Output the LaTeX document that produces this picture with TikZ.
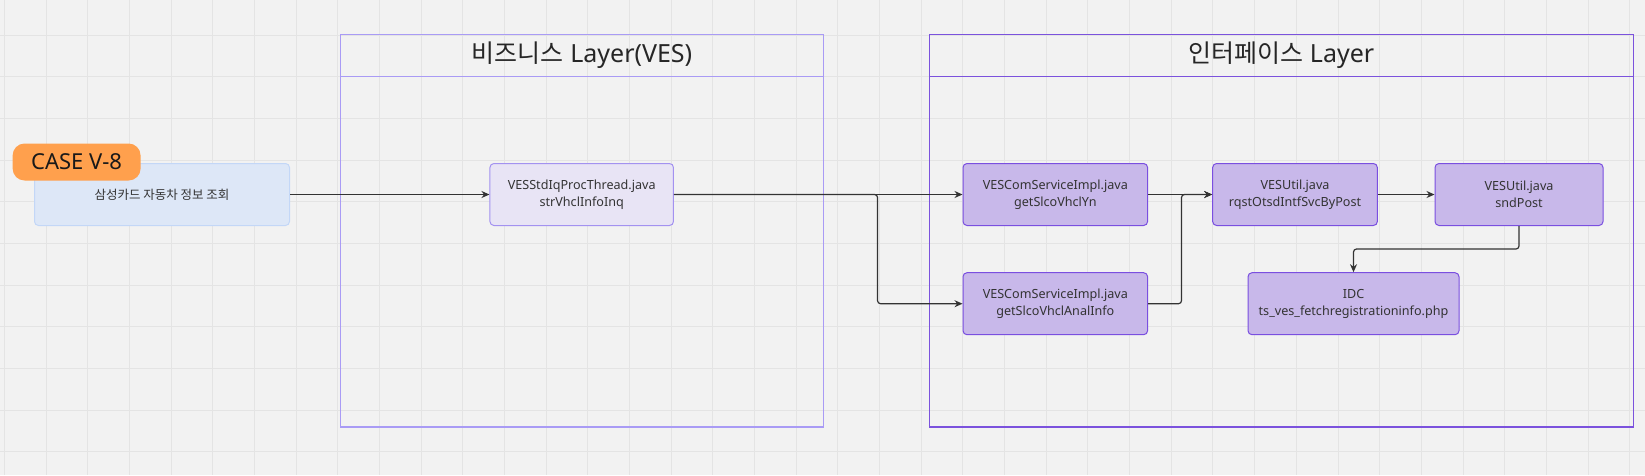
\documentclass[tikz,border=0pt]{standalone}
\usepackage{fontspec}
\setmainfont{Noto Sans}
\newfontfamily\krfont{Noto Sans CJK KR}
\usepackage{tikz}
\usetikzlibrary{arrows.meta, positioning, calc}
\definecolor{canvasgray}{RGB}{242,242,242}
\definecolor{gridgray}{RGB}{228,228,228}
\definecolor{caseorange}{RGB}{255,160,77}
\definecolor{reqfill}{RGB}{221,231,247}
\definecolor{reqline}{RGB}{195,215,247}
\definecolor{bizfill}{RGB}{232,228,245}
\definecolor{bizline}{RGB}{163,146,240}
\definecolor{iffill}{RGB}{200,184,234}
\definecolor{ifline}{RGB}{122,79,224}
\definecolor{bizlayerline}{RGB}{169,155,245}
\definecolor{iflayerline}{RGB}{123,82,221}
\definecolor{inkgray}{RGB}{51,51,51}

\begin{document}
\begin{tikzpicture}[
    x=1pt, y=-1pt,
    gridline/.style={draw=gridgray, line width=0.9pt},
    layerhead/.style={rectangle, draw=#1, line width=1.2pt, inner sep=0pt,
                minimum height=42pt, font=\fontsize{25}{29}\selectfont, text=black!85},
    casetag/.style={rectangle, rounded corners=12pt, fill=caseorange, inner sep=0pt,
                minimum width=128pt, minimum height=37pt,
                font=\fontsize{22}{25}\selectfont, text=black!90},
    reqbox/.style={rectangle, rounded corners=4pt, draw=reqline, fill=reqfill,
                line width=1pt, minimum width=255pt, minimum height=62pt,
                font=\krfont\fontsize{12.5}{16}\selectfont, text=inkgray},
    bizbox/.style={rectangle, rounded corners=4pt, draw=bizline, fill=bizfill,
                line width=1pt, minimum height=62pt, inner sep=0pt, align=center,
                font=\fontsize{12.6}{17}\selectfont, text=inkgray},
    ifbox/.style={bizbox, draw=ifline, fill=iffill},
    arrow/.style={-{Stealth[length=8pt, width=7pt]}, line width=1.2pt, inkgray}
]
    % Canvas
    \fill[canvasgray] (0,0) rectangle (1645,475);
    \useasboundingbox (0,0) rectangle (1645,475);
    \foreach \gx in {0,...,39}
        \draw[gridline] ({4.5+41.67*\gx},0) -- ++(0,475);
    \foreach \gy in {0,...,10}
        \draw[gridline] (0,{35+41.67*\gy}) -- ++(1645,0);

    % Layers
    \draw[bizlayerline, line width=1.2pt] (340.7,34.6) rectangle (823.3,427);
    \node[layerhead=bizlayerline, minimum width=482.6pt] (bizhead) at (582,55.6)
        {{\krfont 비즈니스} Layer(VES)};
    \draw[iflayerline, line width=1.2pt] (929.3,34.6) rectangle (1633.3,427);
    \node[layerhead=iflayerline, minimum width=704pt] (ifhead) at (1281.3,55.6)
        {{\krfont 인터페이스} Layer};

    % Nodes
    \node[reqbox] (request) at (162,194.5) {삼성카드 자동차 정보 조회};
    \node[casetag] (casev8) at (76.6,162) {CASE V-8};
    \node[bizbox, minimum width=183.5pt] (thread) at (581.7,194.5)
        {VESStdIqProcThread.java\\strVhclInfoInq};
    \node[ifbox, minimum width=184.6pt] (slcoyn) at (1055.3,194.5)
        {VESComServiceImpl.java\\getSlcoVhclYn};
    \node[ifbox, minimum width=184.6pt] (slcoanal) at (1055.3,303.7)
        {VESComServiceImpl.java\\getSlcoVhclAnalInfo};
    \node[ifbox, minimum width=164.7pt] (rqstpost) at (1295,194.5)
        {VESUtil.java\\rqstOtsdIntfSvcByPost};
    \node[ifbox, minimum width=168pt] (sndpost) at (1519,194.5)
        {VESUtil.java\\sndPost};
    \node[ifbox, minimum width=211pt] (idc) at (1353.5,303.7)
        {IDC\\ts\_ves\_fetchregistrationinfo.php};

    % Arrows
    \draw[arrow] (request) -- (thread);
    \draw[arrow] (thread) -- (slcoyn);
    \draw[arrow, rounded corners=3pt] (thread.east) -- ++(203.6,0) |- (slcoanal.west);
    \draw[arrow] (slcoyn) -- (rqstpost);
    \draw[arrow, rounded corners=3pt] (slcoanal.east) -- ++(33.4,0) |- (rqstpost.west);
    \draw[arrow] (rqstpost) -- (sndpost);
    \draw[arrow, rounded corners=3pt] (sndpost.south) -- ++(0,23) -| (idc.north);
\end{tikzpicture}
\end{document}
